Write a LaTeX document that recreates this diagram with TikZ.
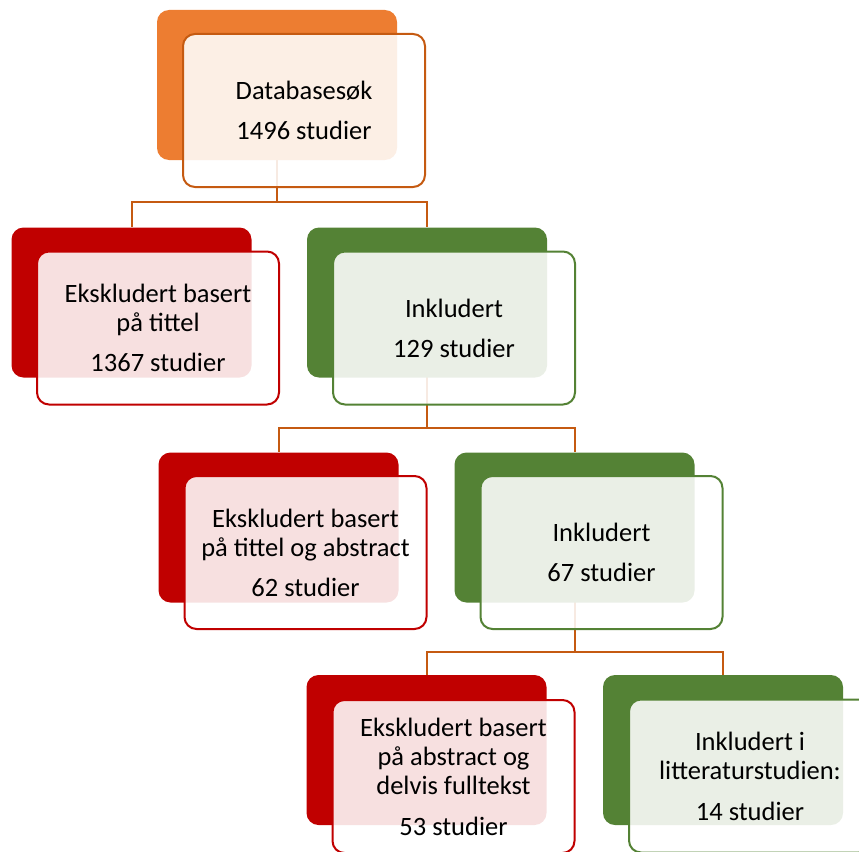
\documentclass[tikz,border=0pt]{standalone}
\usepackage{fontspec}
\setmainfont{Carlito}
\usetikzlibrary{calc}
\pgfdeclarelayer{bg}
\pgfsetlayers{bg,main}
\definecolor{orA}{HTML}{ED7D31}
\definecolor{connC}{HTML}{C55A11}
\definecolor{redA}{HTML}{C00000}
\definecolor{grnA}{HTML}{548235}
\tikzset{
  backbox/.style={rectangle, rounded corners=12pt, minimum width=240pt, minimum height=150pt, fill=#1, draw=none, inner sep=0pt},
  frontbox/.style={rectangle, rounded corners=12pt, minimum width=242pt, minimum height=153pt, draw=#1, line width=2pt, fill=white, fill opacity=0.88, text opacity=1, align=center, font=\fontsize{26.5}{29}\selectfont, inner sep=0pt},
  connector/.style={draw=connC, line width=2pt},
}
\begin{document}
\begin{tikzpicture}[x=1pt,y=-1pt]
\useasboundingbox (0,0) rectangle (859,851);
\clip (0,0) rectangle (859,851);
% back boxes
\node[backbox=orA]  (b1) at (277,85) {};
\node[backbox=redA] (b2) at (131.5,302.5) {};
\node[backbox=grnA] (b3) at (427,302.5) {};
\node[backbox=redA] (b4) at (278.5,527.5) {};
\node[backbox=grnA] (b5) at (574.5,527.5) {};
\node[backbox=redA] (b6) at (426.5,750) {};
\node[backbox=grnA] (b7) at (723,750) {};
% front boxes
\node[frontbox=connC] (f1) at (304,110.5) {Databasesøk\\[11pt]1496 studier};
\node[frontbox=redA]  (f2) at (158,328) {Ekskludert basert\\på tittel\\[11pt]1367 studier};
\node[frontbox=grnA]  (f3) at (454,328) {Inkludert\\[11pt]129 studier};
\node[frontbox=redA]  (f4) at (305.5,552.5) {Ekskludert basert\\på tittel og abstract\\[11pt]62 studier};
\node[frontbox=grnA]  (f5) at (601.5,552.5) {Inkludert\\[11pt]67 studier};
\node[frontbox=redA]  (f6) at (453.5,776.5) {Ekskludert basert\\på abstract og\\delvis fulltekst\\[12pt]53 studier};
\node[frontbox=grnA]  (f7) at (750,776) {Inkludert i\\litteraturstudien:\\[12pt]14 studier};
% connectors
\coordinate (j1) at (277,202);
\coordinate (j2) at (427,428);
\coordinate (j3) at (574.5,652);
\begin{pgfonlayer}{bg}
\draw[connector] (b1.center) -- (j1) -| (b2.north);
\draw[connector] (j1) -| (b3.north);
\draw[connector] (b3.center) -- (j2) -| (b4.north);
\draw[connector] (j2) -| (b5.north);
\draw[connector] (b5.center) -- (j3) -| (b6.north);
\draw[connector] (j3) -| (b7.north);
\end{pgfonlayer}
\end{tikzpicture}
\end{document}
